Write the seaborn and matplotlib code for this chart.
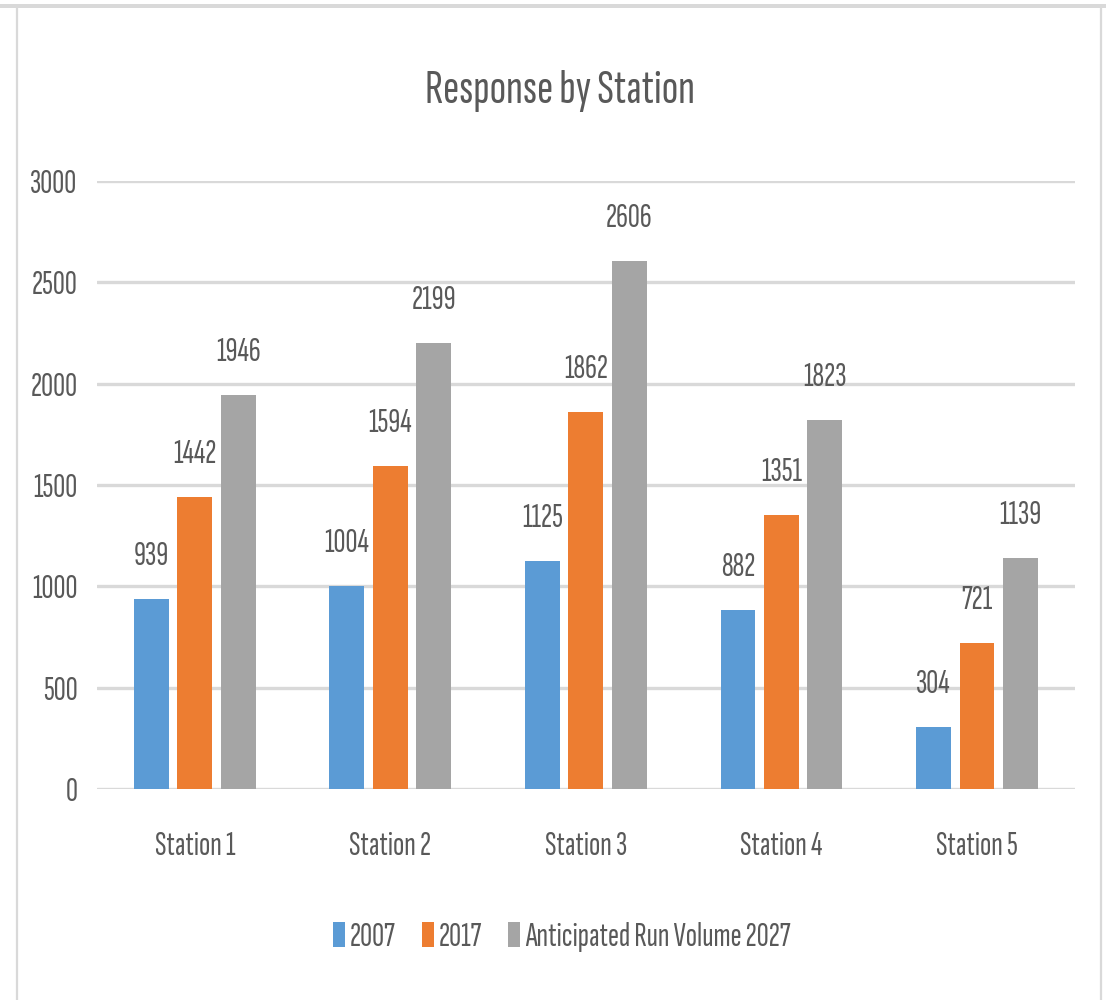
import matplotlib
matplotlib.use("Agg")
import matplotlib.pyplot as plt
from matplotlib.patches import Rectangle
from matplotlib.lines import Line2D
from matplotlib import font_manager
import seaborn as sns
import pandas as pd

# Chart data
stations = ["Station 1", "Station 2", "Station 3", "Station 4", "Station 5"]
series_names = ["2007", "2017", "Anticipated Run Volume 2027"]
values_2007 = [939, 1004, 1125, 882, 304]
values_2017 = [1442, 1594, 1862, 1351, 721]
values_2027 = [1946, 2199, 2606, 1823, 1139]
colors = ["#5B9BD5", "#ED7D31", "#A5A5A5"]
y_ticks = [0, 500, 1000, 1500, 2000, 2500, 3000]

df = pd.DataFrame({
    "Station": stations * 3,
    "Series": [series_names[0]] * 5 + [series_names[1]] * 5 + [series_names[2]] * 5,
    "Value": values_2007 + values_2017 + values_2027,
})

sns.set_theme(style="white")
available = {f.name for f in font_manager.fontManager.ttflist}
family = [f for f in ["Sofia Sans Extra Condensed", "Fira Sans Extra Condensed",
                      "Roboto Condensed", "DejaVu Sans"] if f in available]
plt.rcParams["font.family"] = family

TEXT = "#595959"
GRID = "#D9D9D9"
FS = 24

fig = plt.figure(figsize=(11.06, 10.0), dpi=100)
fig.patch.set_facecolor("white")
ax = fig.add_axes([0.0877, 0.211, 0.884, 0.608])

sns.barplot(data=df, x="Station", y="Value", hue="Series", order=stations,
            hue_order=series_names, palette=colors, width=0.667, gap=0.2,
            saturation=1, ax=ax, legend=True, edgecolor="none")

ax.set_xlim(-0.5, 4.5)
ax.set_ylim(0, 3000)
ax.set_yticks(y_ticks)
ax.set_yticklabels([str(t) for t in y_ticks])
ax.set_xlabel("")
ax.set_ylabel("")
for s in ax.spines.values():
    s.set_visible(False)
ax.yaxis.grid(True, color=GRID, linewidth=2.4)
ax.set_axisbelow(True)
ax.tick_params(axis="y", length=0, pad=14, labelsize=FS, labelcolor=TEXT)
ax.tick_params(axis="x", length=0, pad=30, labelsize=FS, labelcolor=TEXT)

# Value labels above each bar
for container in ax.containers:
    for bar in container:
        h = bar.get_height()
        ax.annotate(f"{int(round(h))}", (bar.get_x() + bar.get_width() / 2, h),
                    xytext=(0, 43), textcoords="offset pixels",
                    ha="center", va="center", fontsize=FS, color=TEXT)

fig.text(0.506, 0.897, "Response by Station", ha="center", va="baseline",
         fontsize=35, color=TEXT)

leg = ax.legend(loc="center", bbox_to_anchor=(0.508, 0.063),
                bbox_transform=fig.transFigure, ncol=3, frameon=False,
                fontsize=FS, labelcolor=TEXT, handlelength=0.36,
                handleheight=0.76, handletextpad=0.13, columnspacing=0.8)

# Chart frame
fig.add_artist(Rectangle((0, 0.992), 1.0, 0.004, transform=fig.transFigure,
                         facecolor=GRID, edgecolor="none"))
fig.add_artist(Line2D([0.0154, 0.0154], [0, 0.994], transform=fig.transFigure,
                      color=GRID, linewidth=1.6))
fig.add_artist(Line2D([0.9955, 0.9955], [0, 0.994], transform=fig.transFigure,
                      color=GRID, linewidth=1.6))

fig.savefig("out.png", dpi=100, facecolor="white")
